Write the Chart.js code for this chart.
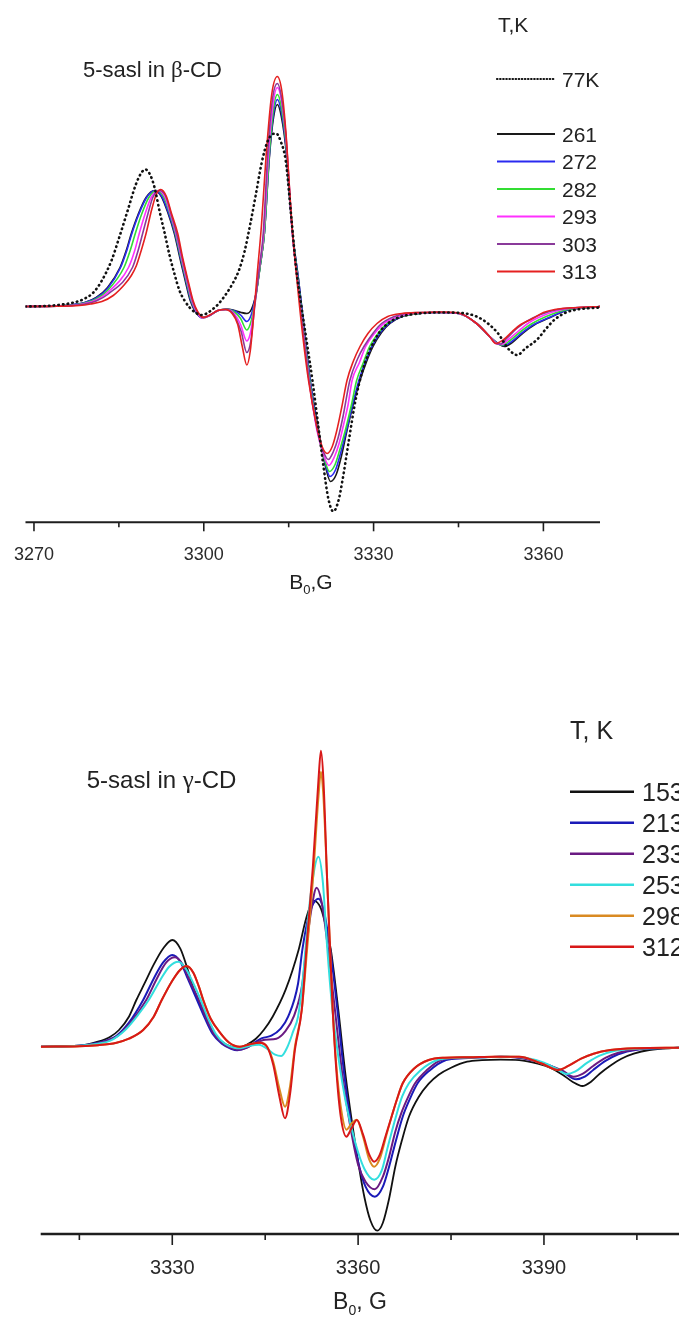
<!DOCTYPE html>
<html><head><meta charset="utf-8">
<script src="https://cdn.jsdelivr.net/npm/chart.js@4.4.1/dist/chart.umd.min.js"></script>
<style>
html,body{margin:0;padding:0;background:#fff;width:679px;height:1321px;overflow:hidden;}
canvas{position:absolute;left:0;}
#c1{top:0}
#c2{top:620px}
</style></head><body>
<canvas id="c1" width="679" height="610"></canvas>
<canvas id="c2" width="679" height="701"></canvas>
<script>
// ---------- Data: top panel (5-sasl in beta-CD), field B0 in G, signal in arbitrary units ----------
const topLabels = ['77K', '261', '272', '282', '293', '303', '313'];
const topColors = ['#111111', '#1a1a1a', '#2a2af0', '#33dd33', '#ff30ff', '#8a3a9a', '#e52020'];
const topTicks = [3270, 3300, 3330, 3360];

const top77 = [[3268.5,0],[3272,0.5],[3275,2],[3277,4],[3279,8],[3280.5,14],[3282,26],[3283.7,46],[3285,68],[3286.5,95],[3288,122],[3289,134],[3289.7,137],[3290.5,132],[3291.3,119],[3292.2,95],[3293.1,73],[3294,50],[3294.8,33],[3295.7,16],[3296.6,6],[3297.5,-1],[3298.5,-6],[3299.5,-8.5],[3300.5,-7],[3301.5,-3],[3302.5,2],[3304,13],[3305.2,24],[3306.2,36],[3307.2,55],[3308.2,82],[3309.2,112],[3310.2,143],[3311.2,164],[3312.2,172.5],[3312.8,173],[3313.6,165],[3314.5,145],[3315.4,93],[3316.3,39],[3317.1,6],[3318.1,-32],[3319.2,-74],[3320.2,-118],[3321.1,-158],[3322,-192],[3322.9,-205],[3323.8,-194],[3324.5,-174],[3325.6,-135],[3326.8,-94],[3328,-65],[3329.1,-47],[3331,-26],[3333,-15],[3335,-10],[3338,-7],[3342,-6],[3345.5,-6.5],[3348.2,-10],[3350.2,-17],[3352,-27],[3353.9,-43],[3355.4,-48.5],[3356.8,-42],[3358.9,-33],[3360.5,-22],[3362,-13],[3364,-6],[3366,-3],[3370,-1]];
const top261 = [[3268.5,0],[3274,0.5],[3277,2],[3279,4],[3281,9],[3283,19],[3285.2,39],[3286.3,56],[3287.2,73],[3288.4,92],[3289.8,109],[3291.3,116],[3292.5,110],[3293.7,93],[3294.8,73],[3295.8,48],[3296.8,24],[3297.6,6],[3298.5,-5],[3299.7,-11],[3301,-9],[3302.5,-4],[3304,-2.5],[3305.5,-4],[3306.6,-6],[3307.6,-7],[3308.4,-3],[3309.2,12],[3310,42],[3310.7,73],[3311.6,150],[3312.3,188],[3313,202],[3313.7,190],[3314.5,158],[3315.1,113],[3315.7,73],[3316.8,24],[3317.8,-25],[3318.8,-74],[3320.3,-124],[3321.3,-155],[3322.4,-175],[3323.4,-168],[3324.3,-150],[3325.3,-124],[3326.4,-98],[3327.6,-74],[3328.7,-56],[3329.9,-40],[3331.4,-26],[3332.9,-17],[3335,-10],[3338,-7],[3341,-6],[3345,-7],[3348.2,-17],[3350.5,-30],[3352,-37],[3353.1,-40],[3354.5,-36],[3356.5,-26],[3358.5,-18],[3361.2,-11],[3364,-4],[3370,0]];
const top272 = [[3268.5,0],[3274,0.5],[3277,2],[3279,4],[3281,8.5],[3283,18],[3285.3,39],[3286.4,56],[3287.3,73],[3288.5,92],[3289.9,109],[3291.4,116],[3292.6,110],[3293.8,93],[3294.9,73],[3295.9,48],[3296.9,24],[3297.7,6],[3298.6,-5],[3299.7,-11.5],[3301,-9],[3302.5,-4],[3304,-3],[3305.5,-4.5],[3306.6,-9],[3307.6,-15],[3308.4,-8],[3309.2,12],[3310,42],[3310.7,73],[3311.6,152],[3312.3,192],[3313,207],[3313.7,195],[3314.5,161],[3315.1,115],[3315.7,73],[3316.8,24],[3317.8,-25],[3318.8,-74],[3320.2,-124],[3321.3,-153],[3322.3,-170],[3323.3,-163],[3324.2,-146],[3325.2,-124],[3326.3,-98],[3327.4,-74],[3328.5,-56],[3329.7,-40],[3331.2,-26],[3332.7,-17],[3335,-10],[3338,-7],[3341,-6],[3345,-7],[3348.2,-17],[3350.5,-30],[3352,-37],[3353,-39],[3354.4,-35],[3356.3,-26],[3358.3,-18],[3361,-11],[3364,-4],[3370,0]];
const top282 = [[3268.5,0],[3274,0.4],[3277,1.5],[3279,3.5],[3281,7.5],[3283,16],[3285.9,39],[3287,56],[3287.9,73],[3289,92],[3290.3,109],[3291.7,116],[3292.9,110],[3294,93],[3295,73],[3296,48],[3297,24],[3297.8,6],[3298.7,-5],[3299.8,-11.5],[3301.1,-9],[3302.5,-4],[3304,-3],[3305.3,-5],[3306.5,-12],[3307.6,-23.5],[3308.4,-14],[3309.2,10],[3310,42],[3310.7,73],[3311.6,155],[3312.3,197],[3313,212],[3313.7,200],[3314.5,165],[3315.1,117],[3315.7,73],[3316.7,24],[3317.7,-25],[3318.7,-74],[3320.1,-124],[3321.2,-150],[3322.2,-165],[3323.2,-158],[3324.1,-142],[3325,-124],[3326.1,-98],[3327,-74],[3328.2,-56],[3329.3,-40],[3330.9,-26],[3332.4,-17],[3335,-9.5],[3338,-7],[3341,-6],[3345,-7],[3348.2,-17],[3350.5,-30],[3351.8,-37],[3352.8,-38.5],[3354.1,-34],[3356,-25],[3358,-17],[3360.5,-10],[3363.5,-4],[3370,0]];
const top293 = [[3268.5,0],[3274,0.4],[3277,1.3],[3279,3],[3281,6.5],[3283,14],[3286.7,39],[3287.8,56],[3288.6,73],[3289.6,92],[3290.7,109],[3292,116],[3293.1,110],[3294.1,93],[3295.1,73],[3296.1,48],[3297.1,24],[3297.9,6],[3298.7,-5],[3299.8,-11.5],[3301.1,-9],[3302.5,-4],[3304,-3],[3305.2,-6],[3306.5,-18],[3307.6,-34.5],[3308.3,-25],[3309,3],[3309.9,42],[3310.6,73],[3311.5,158],[3312.3,205],[3313,219],[3313.7,207],[3314.5,170],[3315.1,120],[3315.6,76],[3316.6,24],[3317.6,-25],[3318.6,-74],[3320,-124],[3321.1,-147],[3322.1,-159],[3323.1,-150],[3323.9,-137],[3324.7,-118],[3325.5,-98],[3326.2,-74],[3327.5,-56],[3328.6,-40],[3330.3,-26],[3331.8,-17],[3335,-9],[3338,-6.5],[3341,-6],[3345,-7],[3348.2,-17],[3350.5,-30],[3351.7,-37],[3352.6,-38],[3353.8,-33],[3355.7,-24],[3357.5,-16],[3360,-9],[3363,-3.5],[3370,0]];
const top303 = [[3268.5,0],[3274,0.3],[3277,1.1],[3279,2.5],[3281,5.5],[3283,12],[3287.4,39],[3288.4,56],[3289.2,73],[3290.1,92],[3291,109],[3292.2,116],[3293.3,110],[3294.2,93],[3295.2,73],[3296.2,48],[3297.2,24],[3298,6],[3298.8,-5],[3299.9,-11],[3301.2,-8.5],[3302.5,-4],[3303.9,-3],[3305.1,-6.5],[3306.6,-25],[3307.6,-46],[3308.3,-35],[3309,0],[3309.9,42],[3310.5,73],[3311.4,162],[3312.2,210],[3313,223],[3313.7,210],[3314.5,172],[3315.1,121],[3315.6,77],[3316.6,24],[3317.6,-26],[3318.6,-74],[3320,-122],[3321,-143],[3322,-153],[3322.9,-145],[3323.7,-132],[3324.6,-110],[3325.8,-74],[3327.2,-52],[3328.3,-40],[3330,-26],[3331.4,-17],[3334.5,-8.5],[3338,-6],[3342,-5.8],[3345,-6.5],[3348.2,-17],[3350.5,-30],[3351.6,-37],[3352.4,-37.5],[3353.5,-32],[3355.3,-22],[3357,-15],[3359.5,-8],[3362.5,-3],[3370,0]];
const top313 = [[3268.5,0],[3274,0.3],[3278,1],[3280,2.5],[3282,5],[3284,11],[3286,22],[3287.2,31],[3288.1,41],[3289,57],[3289.8,73],[3290.8,97],[3291.6,112],[3292.4,117],[3293.4,110],[3294.3,93],[3295.4,73],[3296.3,48],[3297.3,24],[3298.1,6],[3298.9,-5],[3300,-11],[3301.2,-8],[3302.5,-4],[3303.8,-3],[3305,-7],[3306,-18],[3306.8,-40],[3307.6,-58.5],[3308.2,-45],[3308.8,-10],[3309.4,30],[3310.2,82],[3311,150],[3312,212],[3313,230],[3313.8,215],[3314.5,175],[3315.1,122],[3315.6,80],[3316.5,24],[3317.5,-30],[3318.5,-74],[3319.9,-118],[3320.9,-140],[3321.8,-147],[3322.7,-140],[3323.5,-124],[3324.4,-100],[3325.3,-74],[3326.4,-55],[3327.6,-40],[3329,-27],[3330.6,-17],[3332.5,-10],[3335,-7],[3338,-6],[3342,-5.5],[3345,-6.5],[3348.2,-17],[3350.5,-30],[3351.6,-37],[3353,-33],[3354.5,-25],[3356,-18],[3358.1,-12],[3360,-6],[3362,-3],[3366,-1],[3370,0]];

// ---------- Data: bottom panel (5-sasl in gamma-CD) ----------
const botLabels = ['153', '213', '233', '253', '298', '312'];
const botColors = ['#111111', '#1a1ab8', '#6a1a82', '#33dede', '#d98a22', '#d81818'];
const botTicks = [3330, 3360, 3390];

const bot153 = [[3308.8,0],[3315,1],[3318,5],[3320,10],[3321.4,16.7],[3323,30],[3324.2,46.7],[3325.5,63],[3327,82],[3328.5,98],[3330,106.7],[3331.3,98],[3332.5,77],[3333.5,57],[3335,36],[3336.4,16],[3338,5],[3339.5,0],[3340.5,-1],[3342,2],[3343.5,8],[3344.8,17],[3346.2,30],[3348.3,57],[3350.4,97],[3351.6,128],[3352.8,146],[3354,138],[3355,115],[3355.6,97],[3356.8,37],[3358,-30],[3359,-75],[3360,-115],[3361,-150],[3362,-174],[3363.1,-184],[3364,-176],[3365,-152],[3366,-120],[3367.1,-93],[3368.2,-70],[3369.8,-50],[3371.4,-37],[3373,-28],[3375,-21],[3377.6,-15],[3380,-13.5],[3383,-13],[3386,-13.5],[3389,-17],[3391,-21],[3393,-28],[3394.6,-35],[3396.2,-39.3],[3397.6,-35],[3399,-27],[3400.7,-19],[3402.5,-12],[3404.5,-7],[3407,-3.3],[3411.8,-1]];
const bot213 = [[3308.8,0],[3315,1],[3318,4],[3321,11],[3323,24],[3325.3,46.7],[3327,68],[3328.5,84],[3330,91.7],[3331.3,85],[3332.5,68],[3334,46.7],[3335.3,28],[3336.5,13],[3338,3],[3339.5,-2],[3340.5,-3.5],[3342,-1],[3343.5,5],[3344.5,8.5],[3346,11],[3347.5,18],[3348.7,30],[3350.3,63],[3351,97],[3352,130],[3353.6,148],[3354.5,135],[3355.5,97],[3356.6,40],[3357.8,-30],[3358.8,-75],[3360,-115],[3361.2,-140],[3362.7,-150],[3364,-140],[3365,-120],[3366.1,-94],[3367.2,-70],[3368.3,-53],[3369.6,-36.6],[3371.5,-24],[3374.2,-13.3],[3377,-11.5],[3380,-10.5],[3383,-10],[3386,-11],[3389,-15],[3391,-19],[3393,-25],[3395.2,-32.6],[3396.6,-30],[3398,-23],[3400,-14],[3402,-7.5],[3405,-3],[3411.8,-1]];
const bot233 = [[3308.8,0],[3315,1],[3318,3.5],[3321,10],[3323,22],[3325.8,46.7],[3327.5,68],[3329,84],[3330.4,89.4],[3331.6,83],[3332.8,66],[3334.3,46.7],[3335.5,28],[3336.7,13],[3338.2,3],[3339.7,-2],[3340.7,-3],[3342,-1],[3343.5,4],[3345,7],[3346.8,8],[3348.2,15],[3349.6,30],[3351,63],[3351.6,97],[3352.4,135],[3353.3,159],[3354.1,145],[3355.1,100],[3356.2,40],[3357.5,-30],[3358.6,-75],[3360,-118],[3361.2,-135],[3362.7,-142.6],[3364,-130],[3365,-110],[3366,-85],[3367,-66],[3368.1,-50],[3369.2,-36.6],[3371,-24],[3373.5,-13],[3377,-11],[3380,-10.5],[3383,-10],[3386,-11],[3389,-15],[3391,-19],[3393,-24],[3394.8,-30],[3396.3,-27],[3398,-19],[3400,-11],[3402,-6],[3405,-2.5],[3411.8,-1]];
const bot253 = [[3308.8,0],[3315,1],[3318,3],[3320,6],[3322.4,16.7],[3324.5,32],[3326.2,46.7],[3328,66],[3329.5,80],[3331,85],[3332.3,77],[3333.5,62],[3334.6,46.7],[3335.8,28],[3337,13],[3338.5,3],[3340,-1],[3341,-1.5],[3342.5,1],[3344,2],[3345.5,-3],[3346.6,-8],[3347.6,-9.3],[3348.6,0],[3349.5,15],[3350.3,30],[3351,63],[3351.5,97],[3352.3,150],[3353.6,190],[3354.3,165],[3355,100],[3355.8,40],[3356.8,-10],[3358,-55],[3359.5,-95],[3361,-122],[3362.6,-133],[3363.8,-124],[3364.8,-100],[3366.1,-70],[3367.1,-50],[3368.2,-36.6],[3370,-24],[3372.8,-13.3],[3376,-11],[3380,-10.5],[3384,-10],[3387,-11],[3390,-16],[3392,-22],[3393.7,-27.3],[3395,-25],[3397,-16],[3399,-9],[3401.5,-4],[3405,-2],[3411.8,-1]];
const bot298 = [[3308.8,0],[3315,0.5],[3318,1.5],[3321,4],[3323,8],[3325.3,16.7],[3327,30],[3328.3,46.7],[3330,66],[3331.3,77],[3332.3,80.7],[3333.4,74],[3334.3,60],[3335,46.7],[3336.2,28],[3337.8,13.4],[3339.2,4],[3340.9,0],[3342.5,2.5],[3344.1,4],[3345.3,0],[3346.3,-15],[3347.3,-42],[3348.2,-60],[3349,-40],[3349.8,0],[3350.9,36.7],[3351.8,100],[3352.7,166.7],[3353.6,250],[3354,275],[3354.4,250],[3355,166.7],[3355.9,36.7],[3356.5,-20],[3357.2,-60],[3358.1,-83],[3358.9,-77],[3359.8,-73],[3360.8,-90],[3361.8,-113],[3362.6,-120],[3363.5,-112],[3364.5,-90],[3365.4,-70],[3366.3,-52],[3367.2,-36.6],[3369,-22],[3371.4,-13.3],[3374,-11],[3378,-10.5],[3382,-10],[3386,-10],[3389.5,-16.6],[3392.3,-23.3],[3394,-19],[3396,-12],[3398,-7],[3400.7,-3.3],[3405,-1.5],[3411.8,-1]];
const bot312 = [[3308.8,0],[3315,0.5],[3318,1.5],[3321,4],[3323,8],[3325.3,16.7],[3327,30],[3328.3,46.7],[3330,66],[3331.3,77],[3332.3,80.7],[3333.4,74],[3334.3,60],[3335,46.7],[3336.2,28],[3337.8,13.4],[3339.2,4],[3340.9,0],[3342.5,2.5],[3344.1,4],[3345.3,0],[3346.3,-18],[3347.3,-50],[3348.2,-71.6],[3349,-48],[3349.8,-3],[3350.9,36.7],[3351.8,110],[3352.7,180],[3353.6,266.7],[3354,296],[3354.4,266.7],[3355,166.7],[3355.9,36.7],[3356.5,-25],[3357.2,-70],[3358.1,-90],[3358.9,-82],[3359.8,-73.3],[3360.8,-88],[3361.8,-108],[3362.6,-115],[3363.5,-108],[3364.5,-88],[3365.4,-70],[3366.3,-52],[3367.2,-36.6],[3369,-22],[3371.4,-13.3],[3374,-11],[3378,-10.5],[3382,-10],[3386,-10],[3389.5,-16.6],[3392.3,-23.3],[3394,-19],[3396,-12],[3398,-7],[3400.7,-3.3],[3405,-1.5],[3411.8,-1]];

// ---------- Rendering ----------
const SANS = '"Liberation Sans", Arial, Helvetica, sans-serif';
const SERIF = '"Liberation Serif", "DejaVu Serif", serif';
const INK = '#222222';

function drawRich(ctx, x, y, parts, align) {
  let w = 0;
  parts.forEach(p => { ctx.font = p[1] + 'px ' + (p[2] || SANS); w += ctx.measureText(p[0]).width; });
  let cx = align === 'center' ? x - w / 2 : x;
  parts.forEach(p => {
    ctx.font = p[1] + 'px ' + (p[2] || SANS);
    ctx.fillText(p[0], cx, y + (p[3] || 0));
    cx += ctx.measureText(p[0]).width;
  });
}

function makeDecor(cfg) {
  return {
    id: 'decor',
    afterDraw(chart) {
      const ctx = chart.ctx, a = chart.chartArea, xs = chart.scales.x;
      ctx.save();
      ctx.strokeStyle = '#1e1e1e';
      ctx.lineWidth = cfg.axisW;
      ctx.beginPath(); ctx.moveTo(a.left, a.bottom); ctx.lineTo(a.right, a.bottom); ctx.stroke();
      ctx.lineWidth = 1.6;
      xs.ticks.forEach(t => {
        const px = xs.getPixelForValue(t.value);
        const major = cfg.ticks.includes(Math.round(t.value));
        ctx.beginPath(); ctx.moveTo(px, a.bottom); ctx.lineTo(px, a.bottom + (major ? cfg.majorLen : cfg.minorLen)); ctx.stroke();
      });
      ctx.fillStyle = INK;
      ctx.textBaseline = 'alphabetic';
      ctx.textAlign = 'left';
      cfg.texts.forEach(t => drawRich(ctx, t.x, t.y, t.parts, t.align));
      // legend
      const L = cfg.legend;
      L.rows.forEach(r => {
        const ds = chart.data.datasets[r.index];
        ctx.save();
        ctx.strokeStyle = ds.borderColor;
        ctx.lineWidth = r.dash ? 2.2 : L.lw;
        ctx.lineCap = r.dash ? 'round' : 'butt';
        ctx.setLineDash(r.dash || []);
        ctx.beginPath(); ctx.moveTo(L.x0, r.y); ctx.lineTo(L.x1, r.y); ctx.stroke();
        ctx.restore();
        ctx.fillStyle = INK;
        ctx.font = L.size + 'px ' + SANS;
        ctx.fillText(ds.label, L.tx, r.y + L.base);
      });
      ctx.restore();
    }
  };
}

function makeChart(id, cfg) {
  return new Chart(document.getElementById(id), {
    type: 'scatter',
    data: {
      datasets: cfg.series.map(s => ({
        label: s.label,
        data: s.data.map(p => ({ x: p[0], y: p[1] })),
        showLine: true, pointRadius: 0, pointHoverRadius: 0,
        borderColor: s.color, backgroundColor: s.color,
        borderWidth: s.width, borderDash: s.dash || [],
        borderCapStyle: s.dash ? 'round' : 'butt', borderJoinStyle: 'round',
        cubicInterpolationMode: 'monotone', fill: false, order: s.order
      }))
    },
    options: {
      responsive: false, animation: false, devicePixelRatio: 1, events: [],
      layout: { padding: { left: cfg.left, right: cfg.right, top: cfg.top, bottom: 0 } },
      plugins: { legend: { display: false }, tooltip: { enabled: false }, title: { display: false } },
      scales: {
        x: {
          type: 'linear', min: cfg.xmin, max: cfg.xmax,
          afterFit: s => { s.height = cfg.axisH; },
          grid: { display: false }, border: { display: false },
          ticks: {
            stepSize: 15, includeBounds: false, autoSkip: false, maxRotation: 0, minRotation: 0,
            padding: cfg.tickPad, color: '#2a2a2a', font: { family: SANS, size: cfg.tickSize },
            callback: v => (cfg.ticks.includes(Math.round(v)) ? String(Math.round(v)) : '')
          }
        },
        y: { display: false, min: cfg.ymin, max: cfg.ymax }
      }
    },
    plugins: [makeDecor(cfg)]
  });
}

// Top panel
const topSeriesData = [top77, top261, top272, top282, top293, top303, top313];
makeChart('c1', {
  series: topSeriesData.map((d, i) => ({
    label: topLabels[i], data: d, color: topColors[i],
    width: i === 0 ? 2.6 : 1.6, dash: i === 0 ? [0.5, 4.2] : null, order: i === 0 ? 0 : 7 - i
  })),
  xmin: 3268.5, xmax: 3370, ymin: -215.8, ymax: 266.5,
  left: 24, right: 79, top: 40, axisH: 87.7, tickPad: 13.6, tickSize: 18,
  ticks: topTicks, axisW: 2, majorLen: 9, minorLen: 5,
  texts: [
    { x: 83, y: 77, parts: [['5-sasl in ', 22], ['\u03b2', 23, SERIF], ['-CD', 22]] },
    { x: 498, y: 31.5, parts: [['T,K', 21]] },
    { x: 311, y: 588.5, align: 'center', parts: [['B', 21], ['0', 13, SANS, 5], [',G', 21]] }
  ],
  legend: {
    x0: 497, x1: 555, tx: 562, size: 21, base: 7.6, lw: 2,
    rows: [{ index: 0, y: 79, dash: [0.5, 2.6] }].concat([1, 2, 3, 4, 5, 6].map((k, i) => ({ index: k, y: 134 + i * 27.5 })))
  }
});

// Bottom panel (canvas offset 620 px)
const botSeriesData = [bot153, bot213, bot233, bot253, bot298, bot312];
makeChart('c2', {
  series: botSeriesData.map((d, i) => ({
    label: botLabels[i], data: d, color: botColors[i], width: i === 0 ? 1.8 : 2, order: 6 - i
  })),
  xmin: 3308.76, xmax: 3411.8, ymin: -187.3, ymax: 346.7,
  left: 40.7, right: 0, top: 80, axisH: 87, tickPad: 14.8, tickSize: 20,
  ticks: botTicks, axisW: 2.5, majorLen: 11, minorLen: 6,
  texts: [
    { x: 86.7, y: 788.3 - 620, parts: [['5-sasl in ', 24], ['\u03b3', 25, SERIF], ['-CD', 24]] },
    { x: 570, y: 738.5 - 620, parts: [['T, K', 25]] },
    { x: 360, y: 1309 - 620, align: 'center', parts: [['B', 23], ['0', 14, SANS, 6], [', G', 23]] }
  ],
  legend: {
    x0: 570, x1: 634, tx: 642, size: 25, base: 9, lw: 2.6,
    rows: [0, 1, 2, 3, 4, 5].map(i => ({ index: i, y: 791.7 - 620 + i * 31 }))
  }
});
</script>
</body></html>
